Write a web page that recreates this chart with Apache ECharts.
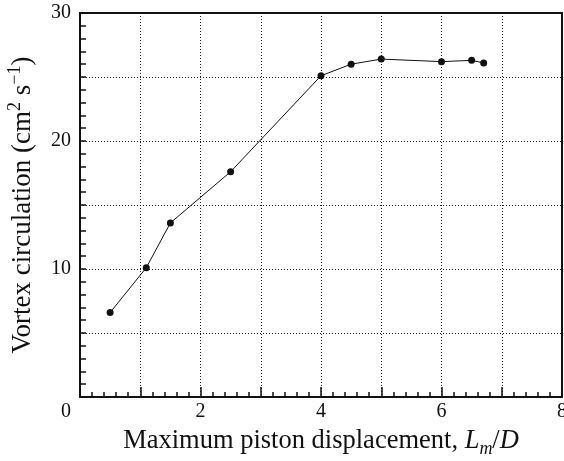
<!DOCTYPE html>
<html>
<head>
<meta charset="utf-8">
<script src="https://cdn.jsdelivr.net/npm/echarts@6/dist/echarts.min.js"></script>
<style>
  html, body { margin: 0; padding: 0; background: #fff; }
  #chart { width: 564px; height: 461px; }
</style>
</head>
<body>
<div id="chart"></div>
<script>
// Maximum piston displacement L_m/D and measured vortex circulation (cm^2 s^-1)
const displacement = [0.5, 1.1, 1.5, 2.5, 4.0, 4.5, 5.0, 6.0, 6.5, 6.7];
const circulation = [6.6, 10.1, 13.6, 17.6, 25.1, 26.0, 26.4, 26.2, 26.3, 26.1];
const xTickLabels = [0, 2, 4, 6, 8];
const yTickLabels = [10, 20, 30];

const FONT = '"Liberation Serif", "Times New Roman", serif';
const INK = '#111';
const TICK_FONT = 20;

const chart = echarts.init(document.getElementById('chart'), null, { renderer: 'canvas' });

function titleRich(size) {
  const small = Math.round(size * 0.68);
  return {
    t: { fontFamily: FONT, fontSize: size, color: INK, lineHeight: 34 },
    i: { fontFamily: FONT, fontSize: size, color: INK, fontStyle: 'italic', lineHeight: 34 },
    sub: { fontFamily: FONT, fontSize: small, color: INK, fontStyle: 'italic', lineHeight: 20, verticalAlign: 'bottom' },
    sup: { fontFamily: FONT, fontSize: small, color: INK, lineHeight: 20, verticalAlign: 'top' }
  };
}

const dotted = { color: '#222', width: 1, type: [1, 2] };

chart.setOption({
  animation: false,
  backgroundColor: '#fff',
  grid: { left: 80, right: 2, top: 13, bottom: 64, containLabel: false, outerBoundsMode: 'none' },
  xAxis: [
    {
      type: 'value', min: 0, max: 8, interval: 1,
      axisLine: { show: true, onZero: false, lineStyle: { color: INK, width: 2 } },
      axisTick: { show: true, inside: true, length: 10, lineStyle: { color: INK, width: 1.5 } },
      minorTick: { show: true, splitNumber: 5, length: 5, lineStyle: { color: INK, width: 1.5 } },
      splitLine: { show: true, lineStyle: dotted },
      axisLabel: {
        margin: 5, hideOverlap: false,
        fontFamily: FONT, fontSize: TICK_FONT, color: INK,
        formatter: v => {
          if (!xTickLabels.includes(v)) return '';
          return v === 0 ? '{z|0}' : String(v);
        },
        rich: { z: { fontFamily: FONT, fontSize: TICK_FONT, color: INK, padding: [0, 28, 0, 0] } }
      },
      name: '{t|Maximum piston displacement, }{i|L}{sub|m}{t|/}{i|D}',
      nameLocation: 'middle', nameGap: 27,
      nameTextStyle: { rich: titleRich(26.5) }
    },
    {
      type: 'value', min: 0, max: 8, position: 'top',
      axisLine: { show: true, onZero: false, lineStyle: { color: INK, width: 2 } },
      axisTick: { show: false }, axisLabel: { show: false }, splitLine: { show: false }
    }
  ],
  yAxis: [
    {
      type: 'value', min: 0, max: 30, interval: 5,
      axisLine: { show: true, onZero: false, lineStyle: { color: INK, width: 2 } },
      axisTick: { show: true, inside: true, length: 6, lineStyle: { color: INK, width: 1.5 } },
      minorTick: { show: true, splitNumber: 5, length: 6, lineStyle: { color: INK, width: 1.5 } },
      splitLine: { show: true, lineStyle: dotted },
      axisLabel: {
        margin: 9,
        fontFamily: FONT, fontSize: TICK_FONT, color: INK,
        formatter: v => yTickLabels.includes(v) ? String(v) : ''
      },
      name: '{t|Vortex circulation (cm}{sup|2}{t| s}{sup|\u22121}{t|)}',
      nameLocation: 'middle', nameGap: 40, nameRotate: 90,
      nameTextStyle: { rich: titleRich(27) }
    },
    {
      type: 'value', min: 0, max: 30, position: 'right',
      axisLine: { show: true, onZero: false, lineStyle: { color: INK, width: 2 } },
      axisTick: { show: false }, axisLabel: { show: false }, splitLine: { show: false }
    }
  ],
  series: [{
    type: 'line',
    data: displacement.map((x, i) => [x, circulation[i]]),
    symbol: 'circle', symbolSize: 7,
    itemStyle: { color: INK },
    lineStyle: { color: INK, width: 1 },
    z: 5
  }]
});
</script>
</body>
</html>
